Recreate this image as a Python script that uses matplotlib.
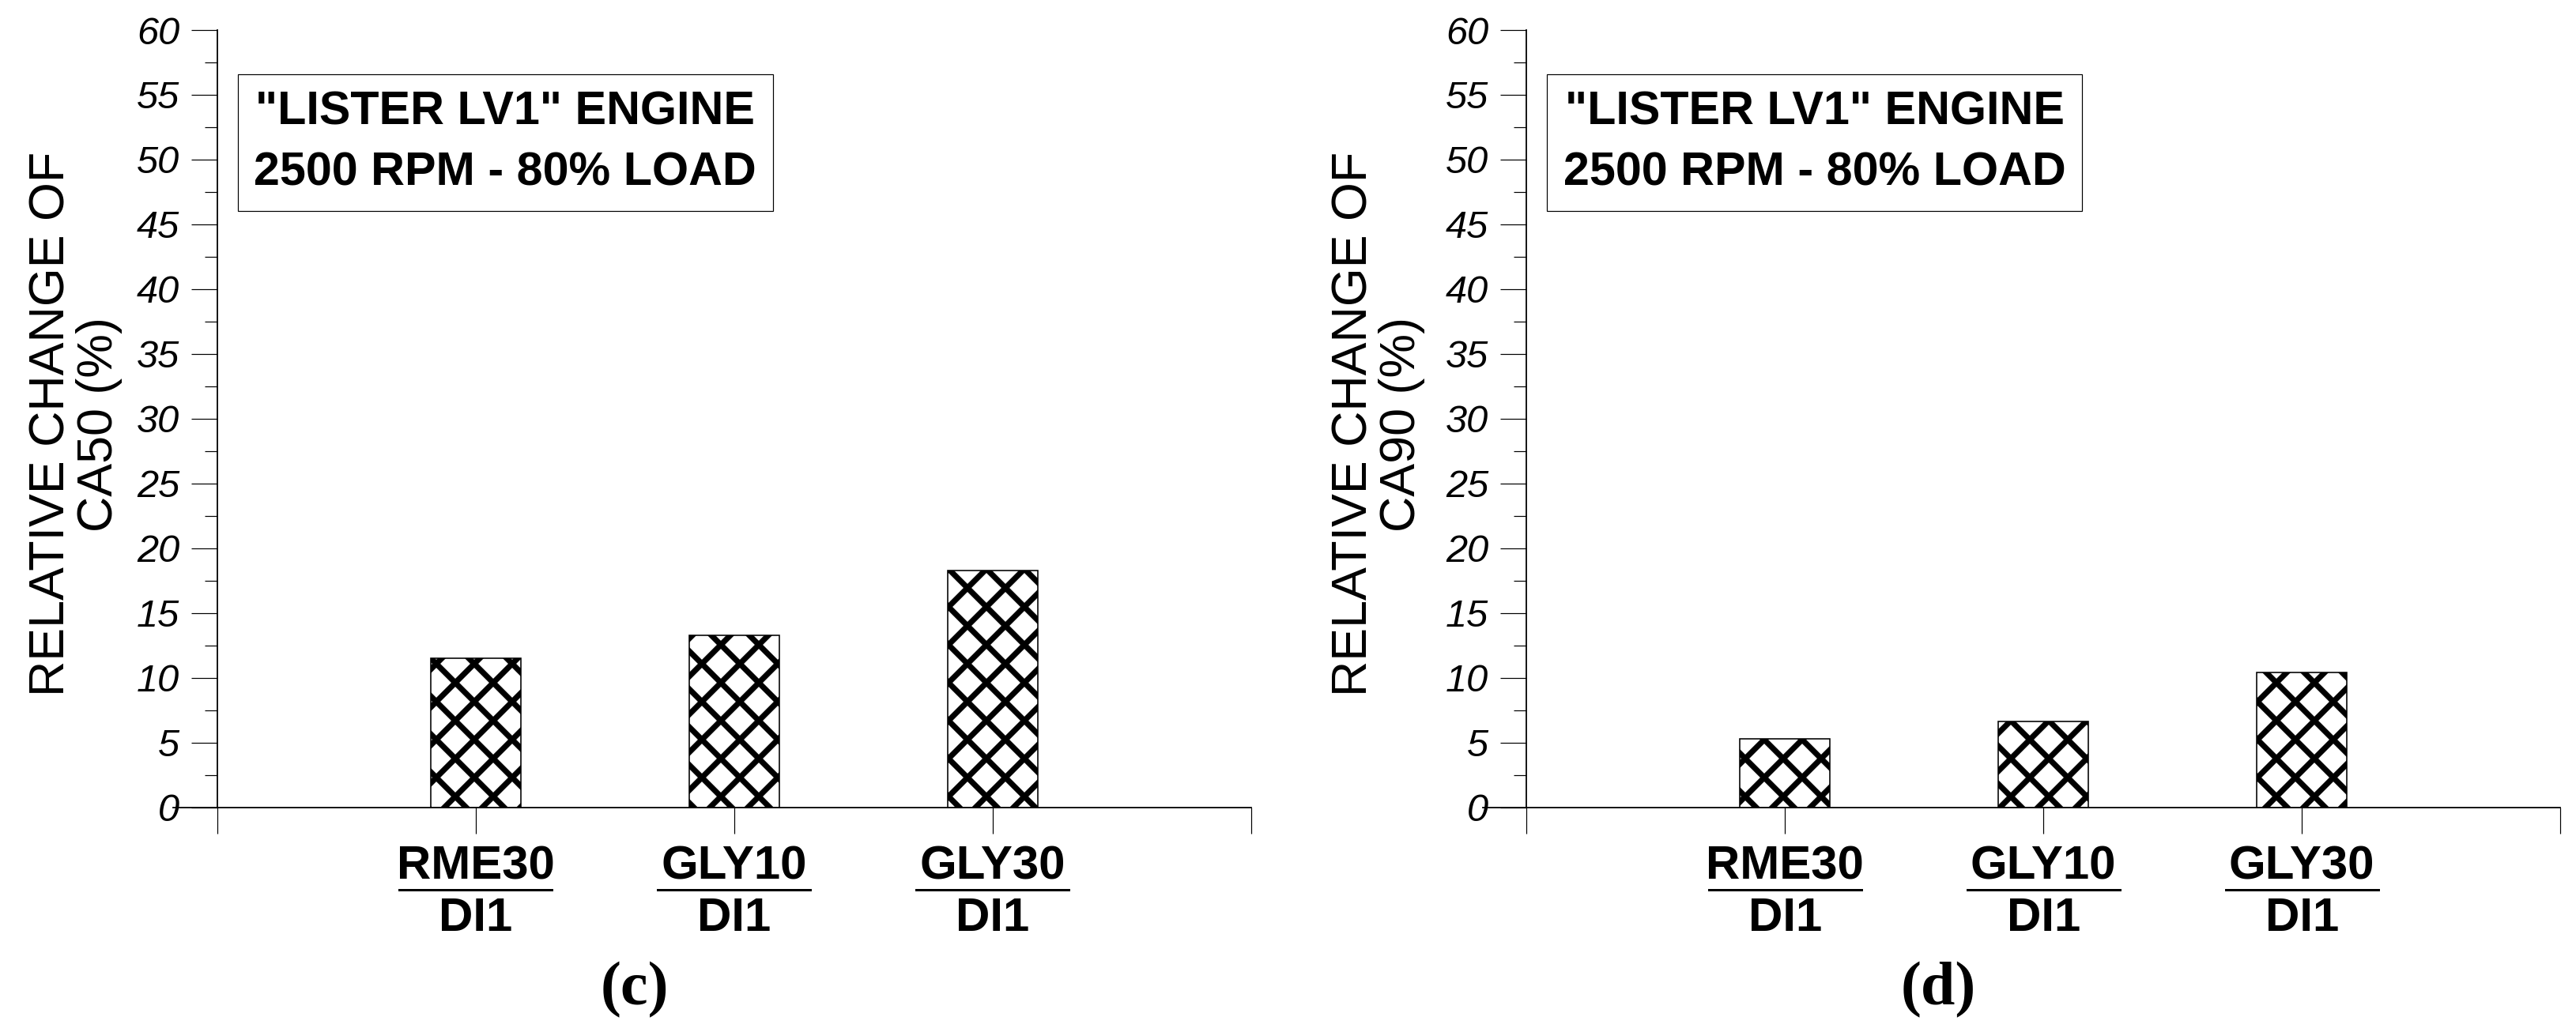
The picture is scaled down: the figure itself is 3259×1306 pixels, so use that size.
import matplotlib

matplotlib.use("Agg")
import matplotlib.pyplot as plt
from matplotlib.transforms import blended_transform_factory
from matplotlib.ticker import MultipleLocator


DPI = 288

blend_names = ["RME30", "GLY10", "GLY30"]
base_names = ["DI1", "DI1", "DI1"]
ca50_change = [11.5, 13.3, 18.3]
ca90_change = [5.3, 6.65, 10.4]
y_ticks = list(range(0, 61, 5))
box_text = '"LISTER LV1" ENGINE\n2500 RPM - 80% LOAD'

plt.rcParams["font.family"] = ["Liberation Sans", "DejaVu Sans"]
plt.rcParams["hatch.linewidth"] = 1.8
plt.rcParams["hatch.color"] = "black"


def draw_panel(ax, values, ylabel, panel_tag, fig, tag_x, label_x):
    positions = [i + 1 for i in range(len(values))]
    ax.bar(positions, values, width=0.35, color="white", edgecolor="black",
           linewidth=0.4, hatch="xx", zorder=2)

    ax.set_xlim(-0.17, 4)
    ax.set_ylim(0, 60)
    ax.spines["left"].set_position(("data", 0))
    ax.spines["top"].set_visible(False)
    ax.spines["right"].set_visible(False)
    for side in ("left", "bottom"):
        ax.spines[side].set_linewidth(0.45)

    ax.set_xticks([0, 1, 2, 3, 4])
    ax.set_xticklabels([])
    ax.tick_params(axis="x", direction="out", length=8.25, width=0.3)
    ax.set_yticks(y_ticks)
    ax.yaxis.set_minor_locator(MultipleLocator(2.5))
    ax.tick_params(axis="y", which="major", direction="out", length=8.25,
                   width=0.3, pad=3.7, labelsize=12.2)
    ax.tick_params(axis="y", which="minor", direction="out", length=4, width=0.3)
    for lab in ax.get_yticklabels():
        lab.set_fontstyle("italic")

    ax.set_ylabel(ylabel, fontsize=15.7, linespacing=1.05)
    ax.yaxis.label.set_verticalalignment("center")
    ax.yaxis.set_label_coords(label_x, 0.493)

    trans = blended_transform_factory(ax.transData, ax.transAxes)
    for x, top, bottom in zip(positions, blend_names, base_names):
        ax.text(x, -0.076, top, transform=trans, ha="center", va="center",
                fontsize=15, fontweight="bold")
        ax.plot([x - 0.295, x + 0.295], [-0.1057, -0.1057], transform=trans,
                color="black", linewidth=0.75, clip_on=False)
        ax.text(x, -0.143, bottom, transform=trans, ha="center", va="center",
                fontsize=15, fontweight="bold")

    ax.text(0.308, 0.855, box_text, transform=ax.transAxes, ha="center",
            va="center", fontsize=14.8, fontweight="bold", linespacing=1.5,
            bbox=dict(boxstyle="square,pad=0.35", fc="white", ec="black", lw=0.3))

    fig.text(tag_x, 0.041, panel_tag, ha="center", va="center", fontsize=19.5,
             fontweight="bold", family=["Liberation Serif", "DejaVu Serif"])


def main():
    fig = plt.figure(figsize=(3259 / DPI, 1306 / DPI), dpi=DPI)
    ax_left = fig.add_axes([0.0673, 0.2175, 0.4184, 0.7534])
    ax_right = fig.add_axes([0.5755, 0.2175, 0.4184, 0.7534])

    draw_panel(ax_left, ca50_change, "RELATIVE CHANGE OF\nCA50 (%)", "(c)", fig,
               0.2464, -0.091)
    draw_panel(ax_right, ca90_change, "RELATIVE CHANGE OF\nCA90 (%)", "(d)", fig,
               0.7524, -0.097)

    fig.savefig("out.png", dpi=DPI)
    plt.close(fig)


if __name__ == "__main__":
    main()
